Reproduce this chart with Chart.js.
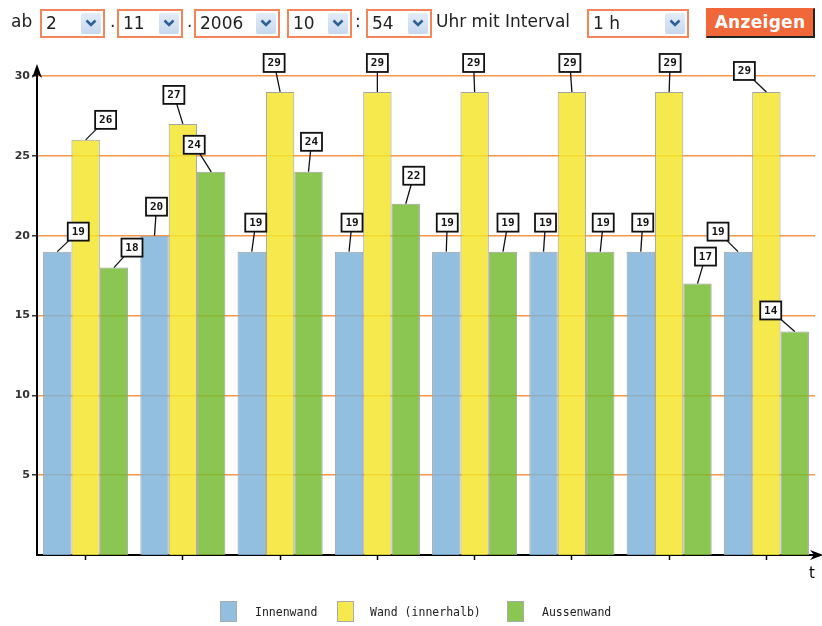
<!DOCTYPE html>
<html>
<head>
<meta charset="utf-8">
<script src="https://cdn.jsdelivr.net/npm/chart.js@4"></script>
<style>
  body { margin: 0; background: #fff; font-family: "DejaVu Sans", Verdana, sans-serif; }
  #wrap { position: relative; width: 822px; height: 626px; overflow: hidden; }
  #chart { position: absolute; left: 0; top: 0; }
  .txt { position: absolute; font-size: 17px; color: #222; top: 11px; }
  .sel { position: absolute; top: 9px; height: 25px; border: 2px solid #f4845a; background: #fff; box-sizing: content-box; }
  .sel span { position: absolute; left: 4px; top: 2px; font-size: 17px; color: #222; }
  .sel .btn { position: absolute; right: 2px; top: 2px; width: 20px; height: 21px; border-radius: 2px;
    background: linear-gradient(#e3ecf7, #c7d8ee); }
  .sel .btn svg { position: absolute; left: 4px; top: 6px; }
  #go { position: absolute; left: 706px; top: 8px; width: 106px; height: 27px; background: #f0673a;
    border: 1px solid #f0673a; border-right: 2px solid #222; border-bottom: 2px solid #222;
    color: #fff; font-weight: bold; font-size: 17px; text-align: center; line-height: 27px; letter-spacing: 0.3px; }
  #legend { position: absolute; left: 0; top: 601px; width: 822px; height: 22px; font-family: "DejaVu Sans Mono", monospace; font-size: 11.5px; color: #222; }
  #legend .box { position: absolute; top: 0; width: 15px; height: 19px; border: 1px solid #aaa; }
  #legend .lab { position: absolute; top: 4px; }
</style>
</head>
<body>
<div id="wrap">
  <canvas id="chart" width="822" height="626"></canvas>
  <div class="txt" style="left:11px">ab</div>
  <div class="sel" style="left:40px;width:61px"><span>2</span><div class="btn"></div></div>
  <div class="txt" style="left:110px">.</div>
  <div class="sel" style="left:117px;width:62px"><span>11</span><div class="btn"></div></div>
  <div class="txt" style="left:187px">.</div>
  <div class="sel" style="left:194px;width:82px"><span>2006</span><div class="btn"></div></div>
  <div class="sel" style="left:287px;width:61px"><span>10</span><div class="btn"></div></div>
  <div class="txt" style="left:355px">:</div>
  <div class="sel" style="left:366px;width:62px"><span>54</span><div class="btn"></div></div>
  <div class="txt" style="left:436px">Uhr mit Interval</div>
  <div class="sel" style="left:587px;width:98px"><span>1 h</span><div class="btn"></div></div>
  <div id="go">Anzeigen</div>
  <div id="legend"></div>
</div>
<script>
// Zeitpunkte (x-Achse, nicht beschriftet)
const zeiten = ['10:54', '11:54', '12:54', '13:54', '14:54', '15:54', '16:54', '17:54'];
const serien = ['Innenwand', 'Wand (innerhalb)', 'Aussenwand'];
const innenwand = [19, 20, 19, 19, 19, 19, 19, 19];
const wandInnerhalb = [26, 27, 29, 29, 29, 29, 29, 29];
const aussenwand = [18, 24, 24, 22, 19, 19, 17, 14];
const yTicks = [5, 10, 15, 20, 25, 30];

const farben = ['rgba(127,180,217,0.85)', 'rgba(243,229,47,0.85)', 'rgba(119,188,53,0.85)'];
const legendFarben = ['#92bfdf', '#f5e94e', '#8bc653'];

// Versatz der Wert-Kaestchen zur Balkenoberkante (dx, dy)
const labelVersatz = [
  [[21,-20],[2,-29],[4,-29],[3,-29],[1,-29],[2,-29],[2,-29],[-20,-20]],
  [[20,-20],[-9,-29],[-6,-29],[0,-29],[-1,-29],[-2,-29],[1,-29],[-22,-21]],
  [[18,-20],[-17,-27],[3,-30],[8,-28],[5,-29],[3,-29],[8,-27],[-24,-21]]
];

document.querySelectorAll('.sel .btn').forEach(b => {
  b.innerHTML = '<svg width="12" height="9"><polyline points="1.5,1.5 6,6 10.5,1.5" fill="none" stroke="#2d5f9a" stroke-width="2.6"/></svg>';
});

const legend = document.getElementById('legend');
const legendPos = [[220, 255], [337, 370], [507, 542]];
serien.forEach((name, i) => {
  legend.innerHTML += '<div class="box" style="left:' + legendPos[i][0] + 'px;background:' + legendFarben[i] + '"></div>' +
    '<div class="lab" style="left:' + legendPos[i][1] + 'px">' + name + '</div>';
});

const pfeile = {
  id: 'pfeile',
  afterDraw(chart) {
    const ctx = chart.ctx;
    const a = chart.chartArea;
    ctx.save();
    ctx.strokeStyle = '#000';
    ctx.fillStyle = '#000';
    ctx.lineWidth = 2;
    ctx.beginPath();
    ctx.moveTo(a.left, a.top);
    ctx.lineTo(a.left, a.top - 8);
    ctx.moveTo(a.right, a.bottom);
    ctx.lineTo(a.right + 3, a.bottom);
    ctx.stroke();
    // Pfeilspitze oben
    ctx.beginPath();
    ctx.moveTo(a.left, a.top - 12);
    ctx.lineTo(a.left + 5, a.top + 2);
    ctx.lineTo(a.left, a.top - 2);
    ctx.lineTo(a.left - 5, a.top + 2);
    ctx.closePath();
    ctx.fill();
    // Pfeilspitze rechts
    ctx.beginPath();
    ctx.moveTo(a.right + 8, a.bottom);
    ctx.lineTo(a.right - 5, a.bottom - 5);
    ctx.lineTo(a.right - 1, a.bottom);
    ctx.lineTo(a.right - 5, a.bottom + 5);
    ctx.closePath();
    ctx.fill();
    ctx.font = '15px "DejaVu Sans"';
    ctx.textAlign = 'center';
    ctx.fillText('t', a.right - 3, a.bottom + 23);
    ctx.restore();
  }
};

const wertLabels = {
  id: 'wertLabels',
  afterDatasetsDraw(chart) {
    const ctx = chart.ctx;
    ctx.save();
    chart.data.datasets.forEach((ds, di) => {
      const meta = chart.getDatasetMeta(di);
      meta.data.forEach((bar, i) => {
        const v = labelVersatz[di][i];
        const cx = bar.x + v[0];
        const cy = bar.y + v[1];
        ctx.strokeStyle = '#111';
        ctx.lineWidth = 1.3;
        ctx.beginPath();
        ctx.moveTo(bar.x, bar.y);
        ctx.lineTo(cx, cy);
        ctx.stroke();
        ctx.fillStyle = '#fff';
        ctx.fillRect(cx - 10.5, cy - 9, 21, 18);
        ctx.lineWidth = 1.8;
        ctx.strokeRect(cx - 10.5, cy - 9, 21, 18);
        ctx.fillStyle = '#111';
        ctx.font = 'bold 11px "DejaVu Sans Mono"';
        ctx.textAlign = 'center';
        ctx.textBaseline = 'middle';
        ctx.fillText(String(ds.data[i]), cx, cy + 0.5);
      });
    });
    ctx.restore();
  }
};

new Chart(document.getElementById('chart').getContext('2d'), {
  type: 'bar',
  data: {
    labels: zeiten,
    datasets: [
      { label: serien[0], data: innenwand, backgroundColor: farben[0] },
      { label: serien[1], data: wandInnerhalb, backgroundColor: farben[1] },
      { label: serien[2], data: aussenwand, backgroundColor: farben[2] }
    ]
  },
  options: {
    responsive: false,
    animation: false,
    events: [],
    layout: { padding: { top: 76, right: 7, left: 0, bottom: 0 } },
    datasets: {
      bar: { categoryPercentage: 0.875, barPercentage: 1, borderColor: '#a3a3a3', borderWidth: 1 }
    },
    plugins: { legend: { display: false }, tooltip: { enabled: false } },
    scales: {
      x: {
        afterFit(scale) { scale.height = 71; },
        ticks: { display: false },
        grid: { drawOnChartArea: false, offset: false, tickLength: 5, tickColor: '#000', tickWidth: 1.5 },
        border: { color: '#000', width: 2 }
      },
      y: {
        min: 0,
        max: 30,
        afterFit(scale) { scale.width = 37; },
        afterBuildTicks(scale) { scale.ticks = yTicks.map(v => ({ value: v })); },
        ticks: {
          color: '#333',
          padding: 2,
          font: { family: 'DejaVu Sans', size: 11, weight: 'bold' }
        },
        grid: { color: '#f79646', lineWidth: 1.5, tickColor: '#333', tickLength: 5, tickWidth: 1.5 },
        border: { color: '#000', width: 2 }
      }
    }
  },
  plugins: [wertLabels, pfeile]
});
</script>
</body>
</html>
